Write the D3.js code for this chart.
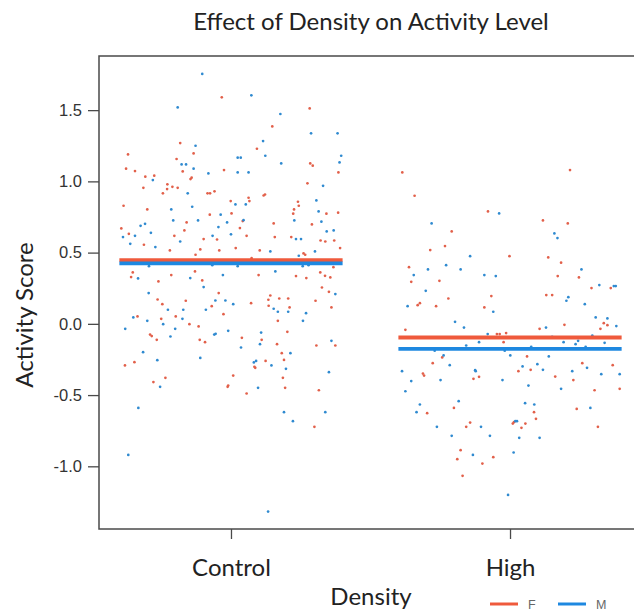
<!DOCTYPE html>
<html>
<head>
<meta charset="utf-8">
<script src="https://cdn.jsdelivr.net/npm/d3@7"></script>
<style>
  body { margin: 0; background: #fff; }
  svg { display: block; }
</style>
</head>
<body>
<svg id="chart" width="634" height="613"></svg>
<script>
// categories and tick labels
const categories = ['Control', 'High']
const yTicks = [-1.0, -0.5, 0.0, 0.5, 1.0, 1.5]
const sexes = ['F', 'M']

// group means, one per category
const meansF = [0.447, -0.096]
const meansM = [0.424, -0.175]

// individual observations as [jitter offset from category, activity score]
const controlF = [
  [-0.033, 1.590], [0.282, 1.512], [0.148, 1.386], [-0.182, 1.269], [0.093, 1.229], [-0.369, 1.189],
  [-0.134, 1.196], [-0.195, 1.157], [-0.376, 1.089], [-0.344, 1.072], [-0.025, 1.079], [-0.173, 1.070],
  [0.284, 1.126], [0.293, 1.110], [-0.307, 1.033], [-0.275, 1.040], [-0.145, 1.016], [-0.141, 1.026],
  [0.385, 1.063], [-0.314, 0.955], [-0.228, 0.979], [-0.229, 0.946], [-0.210, 0.962], [-0.191, 0.955],
  [-0.244, 0.916], [-0.084, 0.916], [-0.075, 0.916], [-0.059, 0.930], [0.117, 0.901], [0.122, 0.908],
  [0.063, 0.885], [0.066, 0.862], [0.274, 0.986], [-0.385, 0.829], [-0.001, 0.862], [-0.300, 0.803],
  [-0.076, 0.766], [0.002, 0.775], [0.223, 0.773], [0.226, 0.803], [0.240, 0.857], [0.243, 0.829],
  [0.342, 0.773], [0.384, 0.780], [0.290, 0.698], [-0.159, 0.712], [0.042, 0.721], [0.153, 0.705],
  [-0.393, 0.670], [-0.366, 0.632], [-0.167, 0.656], [-0.203, 0.618], [-0.312, 0.555], [-0.098, 0.595],
  [-0.050, 0.592], [0.017, 0.532], [0.032, 0.672], [0.056, 0.618], [0.157, 0.609], [0.216, 0.609],
  [0.321, 0.585], [0.338, 0.578], [0.370, 0.585], [0.103, 0.515], [-0.042, 0.515], [-0.219, 0.515],
  [-0.127, 0.485], [-0.110, 0.522], [0.391, 0.532], [0.260, 0.494], [0.266, 0.485], [0.074, 0.461],
  [-0.352, 0.361], [-0.358, 0.328], [-0.260, 0.298], [-0.214, 0.342], [-0.129, 0.368], [-0.103, 0.305],
  [0.099, 0.342], [0.233, 0.335], [0.270, 0.321], [0.320, 0.361], [0.337, 0.337], [0.356, 0.326],
  [0.367, 0.398], [0.326, 0.255], [-0.263, 0.171], [-0.246, 0.138], [-0.162, 0.162], [-0.044, 0.216],
  [-0.069, 0.124], [-0.027, 0.068], [0.072, 0.145], [0.134, 0.169], [0.141, 0.199], [0.135, 0.127],
  [0.173, 0.178], [0.205, 0.178], [0.210, 0.115], [0.168, 0.021], [-0.335, 0.052], [-0.250, 0.035],
  [-0.198, 0.052], [-0.149, -0.002], [-0.116, -0.018], [-0.290, -0.075], [-0.284, -0.086], [-0.266, -0.112],
  [-0.112, -0.112], [-0.093, -0.129], [0.039, -0.098], [0.110, -0.112], [0.202, -0.056], [0.165, -0.143],
  [0.182, -0.206], [0.190, -0.253], [0.124, -0.260], [0.087, -0.309], [0.084, -0.302], [-0.380, -0.292],
  [-0.346, -0.269], [-0.278, -0.409], [-0.235, -0.379], [0.008, -0.363], [-0.010, -0.433], [-0.012, -0.442],
  [0.056, -0.489], [0.186, -0.379], [0.194, -0.449], [0.306, -0.152], [0.374, -0.152], [0.303, 0.162],
  [0.351, 0.225], [0.360, 0.115], [0.315, -0.466], [0.299, -0.723]
]
const controlM = [
  [-0.103, 1.754], [0.073, 1.604], [-0.191, 1.519], [0.177, 1.473], [0.287, 1.337], [0.382, 1.337],
  [0.115, 1.283], [-0.127, 1.250], [0.123, 1.180], [0.395, 1.180], [0.389, 1.133], [0.180, 1.126],
  [-0.177, 1.119], [-0.161, 1.119], [-0.134, 1.089], [-0.081, 1.056], [0.024, 1.063], [0.063, 1.063],
  [-0.280, 1.009], [0.024, 1.166], [0.035, 1.166], [0.330, 0.969], [-0.155, 0.916], [0.306, 0.866],
  [0.016, 0.838], [0.053, 0.838], [-0.139, 0.822], [-0.214, 0.803], [0.314, 0.789], [-0.037, 0.766],
  [-0.207, 0.726], [-0.118, 0.726], [0.045, 0.728], [0.227, 0.726], [0.324, 0.717], [-0.308, 0.702],
  [-0.324, 0.688], [-0.045, 0.679], [-0.014, 0.712], [0.343, 0.649], [0.368, 0.656], [-0.287, 0.639],
  [-0.344, 0.618], [-0.387, 0.609], [0.000, 0.628], [-0.066, 0.618], [-0.361, 0.562], [-0.271, 0.539],
  [-0.182, 0.578], [0.233, 0.595], [0.251, 0.595], [0.141, 0.508], [0.301, 0.508], [0.243, 0.478],
  [0.159, 0.368], [-0.146, 0.321], [-0.333, 0.319], [-0.098, 0.258], [-0.294, 0.405], [0.024, 0.405],
  [-0.067, 0.412], [0.278, 0.412], [0.257, 0.405], [-0.029, 0.342], [-0.295, 0.216], [-0.226, 0.099],
  [-0.171, 0.099], [-0.090, 0.099], [-0.056, 0.164], [-0.020, 0.164], [0.008, 0.138], [0.153, 0.106],
  [0.168, 0.085], [0.205, 0.085], [0.269, 0.075], [0.374, 0.209], [-0.379, -0.035], [-0.350, 0.045],
  [-0.300, 0.021], [-0.243, -0.002], [-0.200, -0.035], [-0.174, 0.035], [-0.217, -0.089], [-0.010, -0.049],
  [-0.060, -0.075], [-0.055, -0.070], [0.108, -0.061], [0.104, -0.143], [0.036, -0.166], [-0.315, -0.199],
  [-0.264, -0.255], [-0.110, -0.239], [0.082, -0.271], [0.090, -0.260], [0.145, -0.292], [0.213, -0.206],
  [0.197, -0.316], [0.258, 0.021], [0.360, -0.119], [0.351, -0.339], [-0.254, -0.442], [0.097, -0.449],
  [-0.332, -0.590], [0.190, -0.620], [0.222, -0.683], [0.338, -0.620], [-0.368, -0.920], [0.133, -1.318]
]
const highF = [
  [-0.386, 1.063], [-0.342, 0.899], [-0.079, 0.789], [0.118, 0.726], [0.215, 1.079], [0.207, 0.705],
  [-0.209, 0.649], [-0.286, 0.518], [-0.233, 0.546], [-0.002, 0.475], [0.137, 0.466], [0.183, 0.429],
  [-0.362, 0.398], [-0.354, 0.295], [-0.253, 0.302], [-0.331, 0.131], [-0.323, 0.145], [-0.265, 0.124],
  [-0.221, 0.178], [-0.067, 0.195], [-0.092, 0.115], [0.130, 0.202], [0.151, 0.202], [0.171, 0.335],
  [0.247, 0.326], [0.292, 0.251], [0.361, 0.251], [-0.375, -0.042], [0.195, -0.007], [0.106, -0.035],
  [0.324, -0.035], [0.336, 0.005], [0.349, -0.009], [-0.047, -0.072], [-0.037, -0.072], [-0.014, -0.065],
  [-0.023, -0.129], [-0.277, -0.276], [-0.243, -0.236], [-0.312, -0.349], [-0.308, -0.363], [-0.131, -0.386],
  [-0.111, -0.372], [0.030, -0.332], [0.061, -0.229], [0.074, -0.323], [0.162, -0.370], [0.227, -0.395],
  [0.259, -0.276], [0.368, -0.290], [0.303, -0.466], [0.393, -0.456], [-0.297, -0.627], [-0.201, -0.590],
  [-0.157, -0.723], [-0.143, -0.693], [0.010, -0.700], [0.014, -0.690], [0.041, -0.730], [0.055, -0.700],
  [0.086, -0.620], [0.093, -0.667], [0.239, -0.597], [0.315, -0.723], [-0.177, -0.887], [-0.189, -0.950],
  [-0.170, -1.067], [-0.099, -0.981], [-0.060, -0.936]
]
const highM = [
  [-0.281, 0.705], [-0.039, 0.775], [0.159, 0.635], [0.170, 0.602], [-0.143, 0.475], [-0.345, 0.342],
  [-0.294, 0.382], [-0.229, 0.412], [-0.177, 0.382], [-0.092, 0.342], [-0.051, 0.335], [0.256, 0.382],
  [-0.302, 0.232], [-0.367, 0.124], [-0.060, 0.085], [-0.197, 0.014], [-0.165, -0.026], [0.129, -0.026],
  [0.209, 0.187], [0.202, 0.162], [0.268, 0.138], [0.320, 0.272], [0.372, 0.265], [0.379, 0.265],
  [0.307, 0.045], [0.349, 0.038], [0.381, -0.016], [-0.080, -0.072], [0.151, -0.091], [0.295, -0.082],
  [-0.157, -0.152], [-0.111, -0.129], [0.076, -0.161], [0.192, -0.129], [0.235, -0.143], [0.244, -0.119],
  [0.339, -0.133], [0.271, -0.161], [-0.270, -0.189], [-0.238, -0.222], [-0.216, -0.290], [-0.387, -0.332],
  [-0.354, -0.402], [-0.375, -0.473], [-0.249, -0.395], [-0.125, -0.325], [-0.123, -0.332], [-0.027, -0.395],
  [-0.019, -0.189], [0.001, -0.222], [0.045, -0.299], [0.098, -0.283], [0.118, -0.323], [0.139, -0.229],
  [0.066, -0.433], [0.223, -0.332], [0.276, -0.309], [0.327, -0.353], [0.393, -0.353], [0.183, -0.456],
  [-0.323, -0.566], [-0.335, -0.620], [-0.184, -0.543], [0.054, -0.557], [0.087, -0.566], [-0.262, -0.723],
  [-0.209, -0.786], [-0.104, -0.723], [-0.072, -0.786], [0.033, -0.800], [0.106, -0.800], [0.013, -0.903],
  [-0.133, -0.920], [-0.007, -1.201], [0.288, -0.590], [0.025, -0.683], [0.019, -0.683]
]

const colors = { F: '#e2604a', M: '#2f8ad0' }
const lineColors = { F: '#ef5a3c', M: '#1e88e0' }
const textFont = 'Lato, "Open Sans", sans-serif'
const tickFont = '"Liberation Sans", Arial, sans-serif'

const svg = d3.select('#chart')
const margin = { top: 56, left: 99, bottom: 529, right: 642 }

const x = d3.scaleLinear().domain([0.527, 2.473]).range([margin.left, margin.right])
const y = d3.scaleLinear().domain([-1.44, 1.88]).range([margin.bottom, margin.top])

const plot = svg.append('g')

// points
function drawPoints (rows, catIndex, sex) {
  plot.append('g').selectAll('circle')
    .data(rows)
    .join('circle')
    .attr('cx', d => x(catIndex + 1 + d[0]))
    .attr('cy', d => y(d[1]))
    .attr('r', 1.35)
    .attr('fill', colors[sex])
}
drawPoints(controlF, 0, 'F')
drawPoints(controlM, 0, 'M')
drawPoints(highF, 1, 'F')
drawPoints(highM, 1, 'M')

// mean lines, F under M
const meanRows = []
categories.forEach((c, i) => {
  meanRows.push({ cat: i, sex: 'F', v: meansF[i] })
  meanRows.push({ cat: i, sex: 'M', v: meansM[i] })
})
plot.append('g').selectAll('line')
  .data(meanRows)
  .join('line')
  .attr('x1', d => x(d.cat + 1 - 0.4))
  .attr('x2', d => x(d.cat + 1 + 0.4))
  .attr('y1', d => y(d.v))
  .attr('y2', d => y(d.v))
  .attr('stroke', d => lineColors[d.sex])
  .attr('stroke-width', 3.8)

// box
svg.append('rect')
  .attr('x', margin.left)
  .attr('y', margin.top)
  .attr('width', margin.right - margin.left)
  .attr('height', margin.bottom - margin.top)
  .attr('fill', 'none')
  .attr('stroke', '#4a4a4a')
  .attr('stroke-width', 1.5)

// axes
const yAxis = svg.append('g')
  .attr('transform', `translate(${margin.left},0)`)
  .call(d3.axisLeft(y).tickValues(yTicks).tickSize(11).tickPadding(6).tickFormat(d => d.toFixed(1)))
yAxis.select('.domain').remove()
yAxis.selectAll('line').attr('stroke', '#4a4a4a').attr('stroke-width', 1.3)
yAxis.selectAll('text')
  .attr('font-family', tickFont)
  .attr('font-size', 16.5)
  .attr('fill', '#333')

const xAxis = svg.append('g')
  .attr('transform', `translate(0,${margin.bottom})`)
  .call(d3.axisBottom(x).tickValues([1, 2]).tickSize(10).tickPadding(20).tickFormat(d => categories[d - 1]))
xAxis.select('.domain').remove()
xAxis.selectAll('line').attr('stroke', '#4a4a4a').attr('stroke-width', 1.3)
xAxis.selectAll('text')
  .attr('dy', null)
  .attr('y', 47)
  .attr('font-family', textFont)
  .attr('font-size', 24)
  .attr('fill', '#222')

// titles
svg.append('text')
  .attr('x', 371).attr('y', 30)
  .attr('text-anchor', 'middle')
  .attr('font-family', textFont).attr('font-size', 24).attr('fill', '#222')
  .text('Effect of Density on Activity Level')

svg.append('text')
  .attr('transform', 'translate(33,315) rotate(-90)')
  .attr('text-anchor', 'middle')
  .attr('font-family', textFont).attr('font-size', 24).attr('fill', '#222')
  .text('Activity Score')

svg.append('text')
  .attr('x', 371).attr('y', 605)
  .attr('text-anchor', 'middle')
  .attr('font-family', textFont).attr('font-size', 24).attr('fill', '#222')
  .text('Density')

// legend
const legend = svg.append('g').attr('transform', 'translate(490,604)')
sexes.forEach((s, i) => {
  const g = legend.append('g').attr('transform', `translate(${i * 68},0)`)
  g.append('line').attr('x1', 0).attr('x2', 28).attr('y1', 0).attr('y2', 0)
    .attr('stroke', lineColors[s]).attr('stroke-width', 3)
  g.append('text').attr('x', 38).attr('y', 4.5)
    .attr('font-family', tickFont)
    .attr('font-size', 12.5).attr('fill', '#666')
    .text(s)
})
</script>
</body>
</html>
